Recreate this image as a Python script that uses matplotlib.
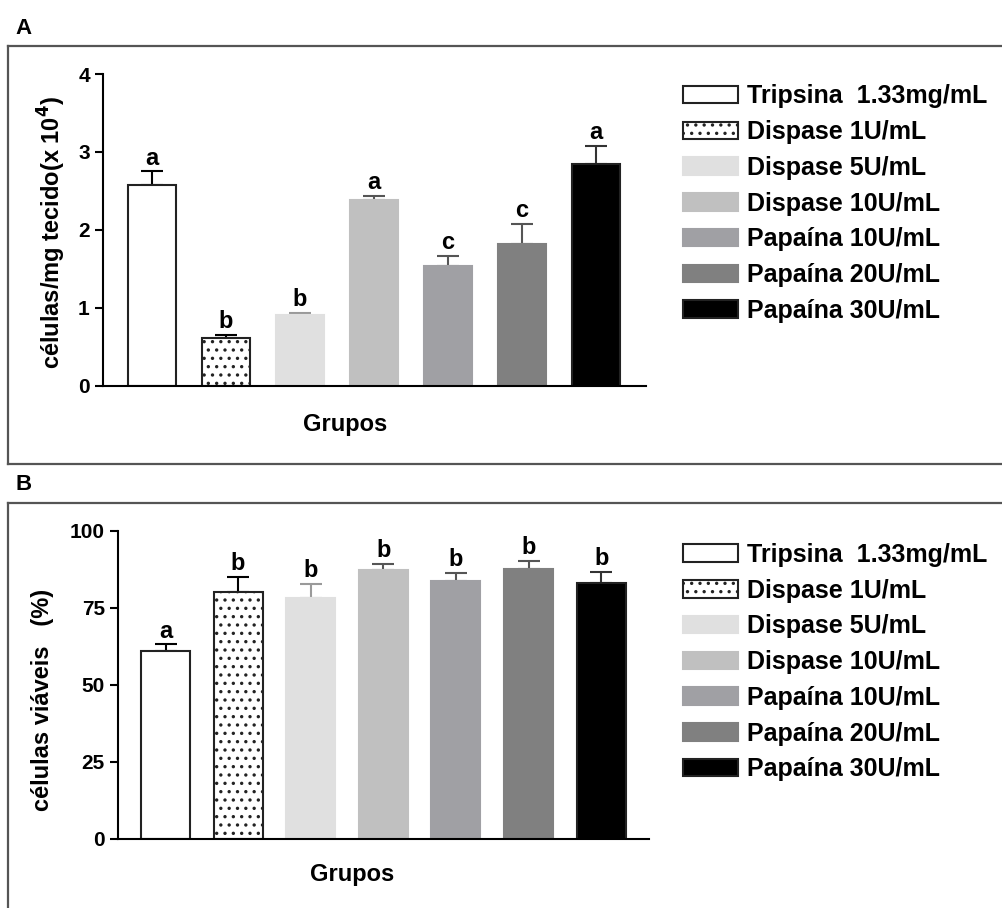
import matplotlib.pyplot as plt
import numpy as np

plt.rc('font', family=['Liberation Sans', 'DejaVu Sans'], weight='bold')
plt.rc('hatch', linewidth=1.2)

grupos = ["Tripsina  1.33mg/mL", "Dispase 1U/mL", "Dispase 5U/mL",
          "Dispase 10U/mL", "Papaína 10U/mL", "Papaína 20U/mL",
          "Papaína 30U/mL"]
cores = ["white", "white", "#e0e0e0", "#c0c0c0", "#a0a0a4", "#808080", "black"]
hatches = [None, "..", None, None, None, None, None]
cor_erro = ["black", "black", "#9a9a9a", "#555555", "#555555", "#555555", "#333333"]

# A: celulas/mg tecido (x 10^4)
celulas = [2.58, 0.61, 0.91, 2.38, 1.54, 1.82, 2.85]
celulas_erro = [0.17, 0.05, 0.03, 0.06, 0.13, 0.26, 0.23]
letras_a = ["a", "b", "b", "a", "c", "c", "a"]

# B: celulas viaveis (%)
viaveis = [61.0, 80.3, 78.2, 87.3, 83.8, 87.7, 83.1]
viaveis_erro = [2.2, 4.8, 4.6, 2.0, 2.7, 2.6, 3.6]
letras_b = ["a", "b", "b", "b", "b", "b", "b"]

fig = plt.figure(figsize=(10.02, 9.08), dpi=100)


def painel(ax, vals, errs, letras, width, ymax, ticks, pad):
    x = np.arange(len(vals))
    for i in x:
        ec = "#222222"
        if cores[i] not in ("white", "black"):
            ec = cores[i]
        ax.bar(i, vals[i], width=width, color=cores[i], edgecolor=ec,
               linewidth=1.5, hatch=hatches[i], label=grupos[i], zorder=2)
        ax.errorbar(i, vals[i], yerr=[[0], [errs[i]]], fmt='none',
                    ecolor=cor_erro[i], elinewidth=1.5, capsize=8,
                    capthick=1.5, zorder=1)
        ax.text(i, vals[i] + errs[i] + pad, letras[i], ha='center',
                va='bottom', fontsize=17, fontweight='bold')
    ax.set_ylim(0, ymax)
    ax.set_yticks(ticks)
    ax.set_xticks([])
    ax.tick_params(axis='y', length=6, width=1.5, labelsize=15)
    for s in ['top', 'right']:
        ax.spines[s].set_visible(False)
    for s in ['left', 'bottom']:
        ax.spines[s].set_linewidth(1.5)
    ax.set_xlabel("Grupos", fontsize=17, fontweight='bold')


axA = fig.add_axes([0.1028, 0.5749, 0.542, 0.3436])
painel(axA, celulas, celulas_erro, letras_a, 0.66, 4, [0, 1, 2, 3, 4], 0.02)
axA.set_xlim(-0.662, 6.676)
axA.set_ylabel(r"células/mg tecido(x 10$^\mathbf{4}$)", fontsize=17,
               fontweight='bold')
axA.yaxis.set_label_coords(-0.065, 0.494)
axA.xaxis.set_label_coords(0.446, -0.087)

axB = fig.add_axes([0.1178, 0.0760, 0.530, 0.3392])
painel(axB, viaveis, viaveis_erro, letras_b, 0.675, 100,
       [0, 25, 50, 75, 100], 0.5)
axB.set_xlim(-0.654, 6.66)
axB.set_ylabel("células viáveis   (%)", fontsize=17, fontweight='bold')
axB.yaxis.set_label_coords(-0.121, 0.451)
axB.xaxis.set_label_coords(0.44, -0.078)

for ax, y in [(axA, 0.918), (axB, 0.413)]:
    ax.legend(loc='upper left', bbox_to_anchor=(0.672, y),
              bbox_transform=fig.transFigure, frameon=False, fontsize=18,
              handlelength=2.2, handleheight=0.7, labelspacing=0.47,
              handletextpad=0.35, borderaxespad=0)

# molduras dos paineis
linha = dict(color="#555555", linewidth=1.6, transform=fig.transFigure)
fig.add_artist(plt.Line2D([0.008, 1.0], [1 - 46 / 908, 1 - 46 / 908], **linha))
fig.add_artist(plt.Line2D([0.008, 0.008], [1 - 46 / 908, 1 - 464 / 908], **linha))
fig.add_artist(plt.Line2D([0.008, 1.0], [1 - 464 / 908, 1 - 464 / 908], **linha))
fig.add_artist(plt.Line2D([0.008, 1.0], [1 - 503 / 908, 1 - 503 / 908], **linha))
fig.add_artist(plt.Line2D([0.008, 0.008], [1 - 503 / 908, 0.0], **linha))

fig.text(0.023, 1 - 28 / 908, "A", fontsize=16, fontweight='bold',
         ha='center', va='center')
fig.text(0.024, 1 - 485 / 908, "B", fontsize=16, fontweight='bold',
         ha='center', va='center')

plt.savefig("out.png", dpi=100)
